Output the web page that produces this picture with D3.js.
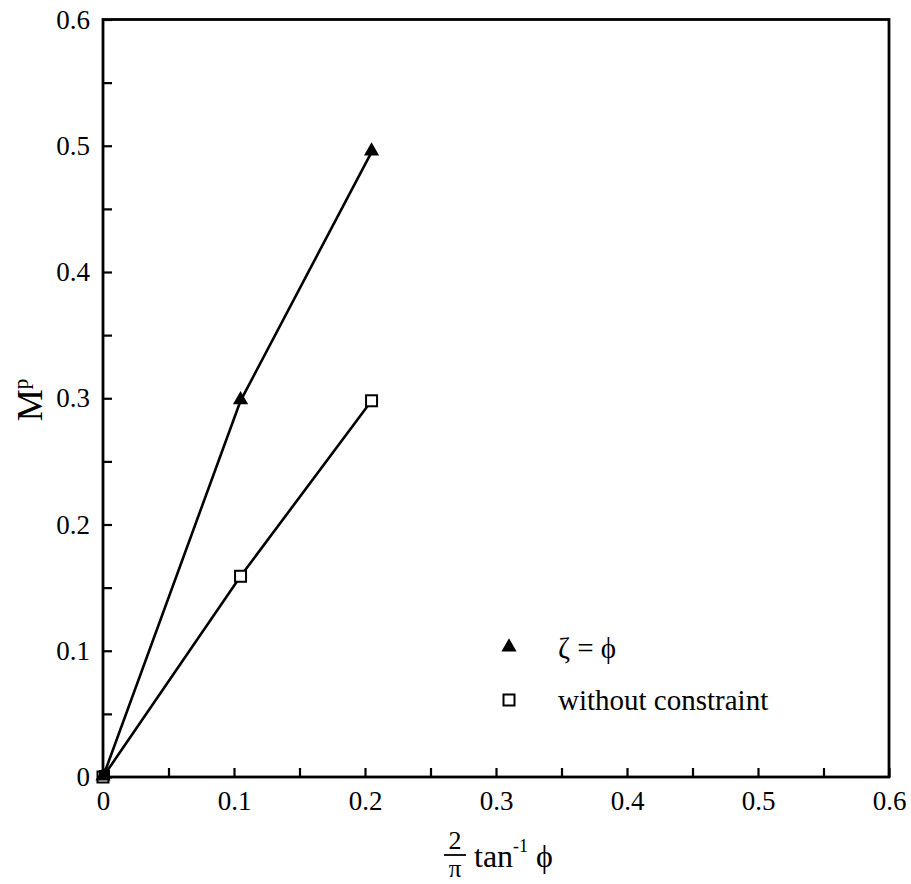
<!DOCTYPE html>
<html>
<head>
<meta charset="utf-8">
<script src="https://cdn.jsdelivr.net/npm/d3@7"></script>
<style>
  body { margin: 0; background: #fff; }
  svg text { font-family: "Liberation Serif", "Times New Roman", Times, Tinos, "DejaVu Serif", "Noto Serif", FreeSerif, serif; fill: #000; }
</style>
</head>
<body>
<svg id="chart"></svg>
<script>
// values
const xVals = [0, 0.105, 0.205]
const zetaPhi = [0, 0.298, 0.495]
const noConstraint = [0, 0.159, 0.298]
const tickVals = d3.range(0, 13).map(i => i / 20)
const legendLabels = ["\u03b6 = \u03d5", "without constraint"]

var serif = '"Liberation Serif", "Times New Roman", Times, Tinos, "DejaVu Serif", serif'

var width = 911
var height = 884
var margin = ({top: 19.5, right: 22, bottom: 107, left: 103})

var x = d3.scaleLinear()
	.domain([0, 0.6])
	.range([margin.left, width - margin.right])

var y = d3.scaleLinear()
	.domain([0, 0.6])
	.range([height - margin.bottom, margin.top])

var fmt = d => (Math.round(d * 20) % 2 === 0) ? String(Math.round(d * 10) / 10) : ""

let svg = d3.select("#chart")
	.attr("width", width)
	.attr("height", height)
	.attr("viewBox", [0, 0, width, height])

// inward ticks every 0.05
var xAxis = g => g
	.attr("transform", `translate(0,${y(0)})`)
	.call(d3.axisBottom(x).tickValues(tickVals).tickFormat(fmt).tickSize(-9).tickPadding(14))
	.call(g => g.select(".domain").remove())

var yAxis = g => g
	.attr("transform", `translate(${x(0)},0)`)
	.call(d3.axisLeft(y).tickValues(tickVals).tickFormat(fmt).tickSize(-9).tickPadding(13))
	.call(g => g.select(".domain").remove())

svg.append("g").call(xAxis).attr("font-family", serif)
svg.append("g").call(yAxis).attr("font-family", serif)

svg.selectAll(".tick line")
	.attr("stroke", "#000")
	.attr("stroke-width", 2.2)

svg.selectAll(".tick text")
	.attr("font-size", 27)
	.style("font-family", serif)

// frame
svg.append("rect")
	.attr("x", x(0))
	.attr("y", y(0.6))
	.attr("width", x(0.6) - x(0))
	.attr("height", y(0) - y(0.6))
	.attr("fill", "none")
	.attr("stroke", "#000")
	.attr("stroke-width", 2.8)

var line = d3.line()
	.x(d => x(d[0]))
	.y(d => y(d[1]))

var series = [
	{vals: zetaPhi, kind: "tri"},
	{vals: noConstraint, kind: "sq"}
]

series.forEach(s => {
	var pts = xVals.map((v, i) => [v, s.vals[i]])
	svg.append("path")
		.attr("fill", "none")
		.attr("stroke", "#000")
		.attr("stroke-width", 2.6)
		.attr("d", line(pts))
})

var triangle = d3.symbol().type(d3.symbolTriangle).size(100)

function drawMarker(kind, cx, cy) {
	if (kind === "tri") {
		svg.append("path")
			.attr("d", triangle())
			.attr("transform", `translate(${cx},${cy - 1})`)
			.attr("fill", "#000")
	} else {
		svg.append("rect")
			.attr("x", cx - 5.5)
			.attr("y", cy - 5.5)
			.attr("width", 11)
			.attr("height", 11)
			.attr("fill", "#fff")
			.attr("stroke", "#000")
			.attr("stroke-width", 2)
	}
}

series.slice().reverse().forEach(s => {
	xVals.forEach((v, i) => drawMarker(s.kind, x(v), y(s.vals[i])))
})
// origin: both markers overlap into a solid blob
svg.append("rect")
	.attr("x", x(0) - 4).attr("y", y(0) - 7)
	.attr("width", 11).attr("height", 10)
	.attr("fill", "#000")

// legend
var legendY = [648, 700]
series.forEach((s, i) => {
	drawMarker(s.kind, 509, legendY[i])
	svg.append("text")
		.attr("x", 558)
		.attr("y", legendY[i] + 10)
		.attr("font-size", 29)
		.style("font-family", serif)
		.text(legendLabels[i])
})

// y axis title
svg.append("text")
	.attr("transform", "translate(42,400) rotate(-90)")
	.attr("text-anchor", "middle")
	.attr("font-size", 36)
	.style("font-family", serif)
	.text("M")
	.append("tspan")
	.attr("font-size", 21)
	.attr("dy", -14)
	.text("p")

// x axis title: 2/pi tan^-1 phi
var xt = svg.append("g").style("font-family", serif)
xt.append("text")
	.attr("x", 455).attr("y", 849)
	.attr("text-anchor", "middle")
	.attr("font-size", 26)
	.text("2")
xt.append("line")
	.attr("x1", 444).attr("x2", 466)
	.attr("y1", 855).attr("y2", 855)
	.attr("stroke", "#000")
	.attr("stroke-width", 1.8)
xt.append("text")
	.attr("x", 455).attr("y", 877)
	.attr("text-anchor", "middle")
	.attr("font-size", 25)
	.text("\u03c0")
var tt = xt.append("text")
	.attr("x", 474).attr("y", 867)
	.attr("font-size", 32)
tt.append("tspan").text("tan")
tt.append("tspan").attr("font-size", 18).attr("dy", -15).text("-1")
tt.append("tspan").attr("dy", 15).text(" \u03d5")
</script>
</body>
</html>
